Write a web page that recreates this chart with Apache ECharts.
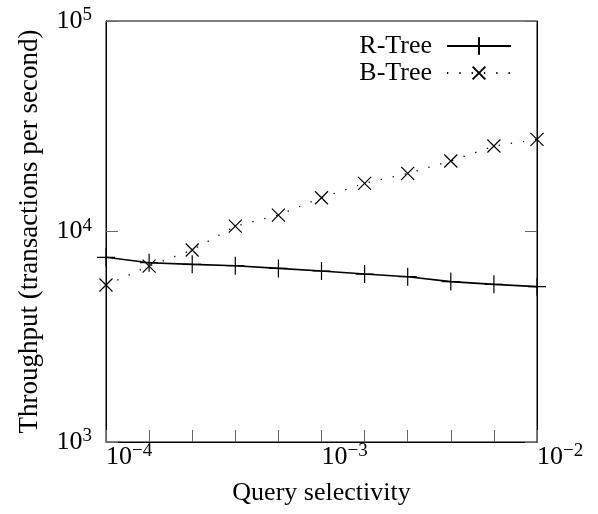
<!DOCTYPE html>
<html>
<head>
<meta charset="utf-8">
<script src="https://cdn.jsdelivr.net/npm/echarts@6/dist/echarts.min.js"></script>
<style>
html, body { margin: 0; padding: 0; background: #fff; }
#main { width: 598px; height: 514px; }
</style>
</head>
<body>
<div id="main"></div>
<script>
// query selectivity (x) and throughput per index type (y)
var selectivity = [1e-4, 1.585e-4, 2.512e-4, 3.981e-4, 6.31e-4, 1e-3, 1.585e-3, 2.512e-3, 3.981e-3, 6.31e-3, 1e-2];
var rtree = [7540, 7110, 6980, 6880, 6680, 6490, 6280, 6100, 5780, 5610, 5470];
var btree = [5570, 6850, 8170, 10600, 11970, 14470, 16940, 18880, 21630, 25470, 27400];
var seriesNames = ['R-Tree', 'B-Tree'];

var font = '"Liberation Serif", "Times New Roman", serif';

function pow_label(v){
    var e = Math.log10(v);
    var r = Math.round(e);
    if (Math.abs(e - r) > 1e-6) return '';
    var exp = r < 0 ? '\u2212' + (-r) : String(r);
    return '{b|10}{s|' + exp + '}';
}

var powRich = {
    b: {fontFamily: font, fontSize: 26, lineHeight: 30, color: '#000'},
    s: {fontFamily: font, fontSize: 19, lineHeight: 12, verticalAlign: 'top', color: '#000'}
};

function pairs(xs, ys){
    var out = [];
    for (var i = 0; i < xs.length; i++) out.push([xs[i], ys[i]]);
    return out;
}

var myChart = echarts.init(document.getElementById('main'));
var option = {
    animation: false,
    backgroundColor: '#fff',
    grid: {
        left: 106, right: 61, top: 21, bottom: 72,
        show: true, borderColor: '#000', borderWidth: 1, backgroundColor: 'transparent'
    },
    legend: {
        data: seriesNames,
        orient: 'vertical',
        align: 'right',
        right: 86,
        top: 33,
        padding: 0,
        itemWidth: 64,
        itemHeight: 22,
        itemGap: 1,
        textStyle: {fontFamily: font, fontSize: 26, color: '#000', lineHeight: 22, padding: [0, 10, 0, 0]}
    },
    xAxis: {
        type: 'log',
        min: 1e-4,
        max: 1e-2,
        interval: 0.2,
        name: 'Query selectivity',
        nameLocation: 'middle',
        nameGap: 38,
        nameTextStyle: {fontFamily: font, fontSize: 26, color: '#000'},
        axisLine: {show: true, lineStyle: {color: '#000', width: 1}},
        axisTick: {show: true, inside: true, length: 12, lineStyle: {color: '#666', width: 1}},
        axisLabel: {
            interval: 0, align: 'left', margin: 0,
            showMinLabel: true, showMaxLabel: true, hideOverlap: false,
            formatter: pow_label, rich: powRich
        },
        splitLine: {show: false},
        minorTick: {show: false}
    },
    yAxis: [{
        type: 'log',
        min: 1e3,
        max: 1e5,
        name: 'Throughput (transactions per second)',
        nameLocation: 'middle',
        nameGap: 63,
        nameTextStyle: {fontFamily: font, fontSize: 27, color: '#000'},
        axisLine: {show: true, lineStyle: {color: '#000', width: 1}},
        axisTick: {show: true, inside: true, length: 12, lineStyle: {color: '#666', width: 1}},
        axisLabel: {margin: 14, formatter: pow_label, rich: powRich, showMinLabel: true, showMaxLabel: true},
        splitLine: {show: false}
    }, {
        type: 'log',
        min: 1e3,
        max: 1e5,
        position: 'right',
        axisLine: {show: true, lineStyle: {color: '#000', width: 1}},
        axisTick: {show: true, inside: true, length: 12, lineStyle: {color: '#666', width: 1}},
        axisLabel: {show: false},
        splitLine: {show: false}
    }],
    series: [{
        name: seriesNames[0],
        type: 'line',
        data: pairs(selectivity, rtree),
        clip: false,
        symbol: 'path://M9,0L9,18M0,9L18,9',
        symbolSize: 18,
        itemStyle: {color: 'transparent', borderColor: '#000', borderWidth: 1.2},
        lineStyle: {color: '#000', width: 1.6}
    }, {
        name: seriesNames[1],
        type: 'line',
        data: pairs(selectivity, btree),
        clip: false,
        symbol: 'path://M0,0M18,18M2.5,2.5L15.5,15.5M15.5,2.5L2.5,15.5',
        symbolSize: 18,
        itemStyle: {color: 'transparent', borderColor: '#000', borderWidth: 1.2},
        lineStyle: {color: '#000', width: 1.3, type: [1.3, 11]}
    }]
};
myChart.setOption(option);
</script>
</body>
</html>
